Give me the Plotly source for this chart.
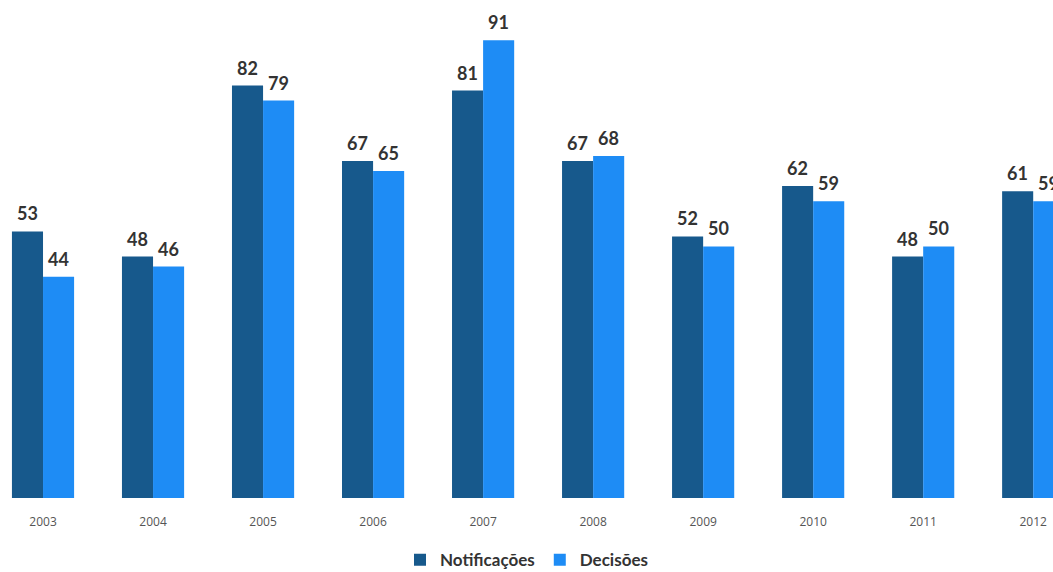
import plotly.graph_objects as go

# Annual counts
anos = ["2003", "2004", "2005", "2006", "2007", "2008", "2009", "2010", "2011", "2012"]
notificacoes = [53, 48, 82, 67, 81, 67, 52, 62, 48, 61]
decisoes = [44, 46, 79, 65, 91, 68, 50, 59, 50, 59]

cor_notif = "#17598c"
cor_dec = "#1e8cf5"

x = list(range(len(anos)))

fig = go.Figure()
fig.add_trace(go.Bar(x=x, y=notificacoes, name="Notificações",
                     marker=dict(color=cor_notif, line=dict(width=0))))
fig.add_trace(go.Bar(x=x, y=decisoes, name="Decisões",
                     marker=dict(color=cor_dec, line=dict(width=0))))

# Value labels above each bar
gap = 0.435
half = (1 - gap) / 4
annotations = []
for i in x:
    for val, dx in ((notificacoes[i], -half), (decisoes[i], half)):
        annotations.append(dict(x=i + dx, y=val, text=str(val), showarrow=False,
                                xanchor="center", yanchor="bottom", yshift=5,
                                font=dict(family="Lato", size=18, color="#333333",
                                          weight="bold")))

fig.update_layout(
    width=1053, height=572,
    margin=dict(l=0, r=0, t=0, b=74, autoexpand=False),
    paper_bgcolor="white", plot_bgcolor="white",
    barmode="group", bargap=gap, bargroupgap=0,
    annotations=annotations,
    showlegend=True,
    legend=dict(orientation="h", x=0.5, xanchor="center",
                yref="paper", y=-0.125, yanchor="middle",
                font=dict(family="Lato", size=17, color="#333333", weight="bold"),
                itemwidth=30, traceorder="normal"),
    xaxis=dict(tickmode="array", tickvals=x, ticktext=anos,
               range=[-0.391, 9.18], showgrid=False, zeroline=False,
               showline=False, ticks="", ticklabelstandoff=15,
               tickfont=dict(family="Open Sans", size=12, color="#555555")),
    yaxis=dict(range=[0, 99], visible=False, showgrid=False, zeroline=False),
)

fig.write_html("out.html")
